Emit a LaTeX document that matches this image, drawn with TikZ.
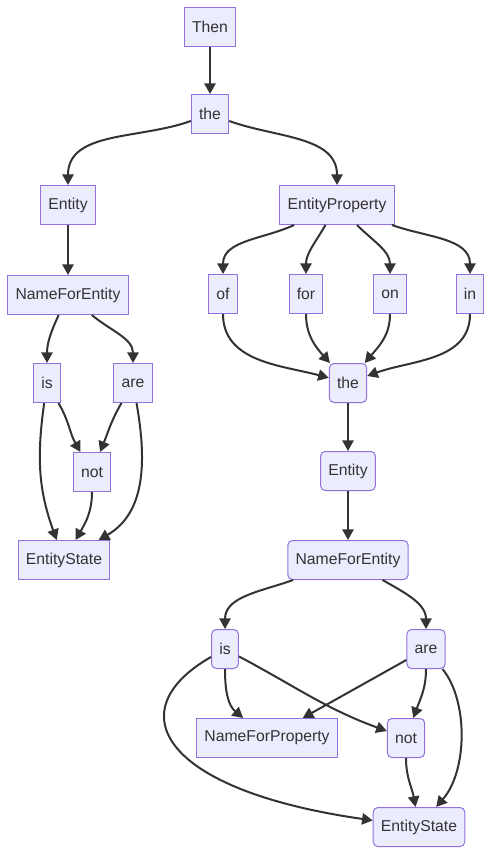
\documentclass[tikz,border=0pt]{standalone}
\usepackage{fontspec}
\setmainfont{Liberation Sans}
\usetikzlibrary{arrows.meta}
\definecolor{mmfill}{HTML}{ECECFF}
\definecolor{mmline}{HTML}{9370DB}
\definecolor{mmedge}{HTML}{333333}
\tikzset{
  >={Triangle[length=8pt,width=8.5pt]},
  % noder
  wn/.style={rectangle,draw=mmline,fill=mmfill,line width=0.75pt,inner xsep=5.8pt,
             inner ysep=0pt,minimum height=29.25pt,text=mmedge,
             font=\fontsize{11.8}{14}\selectfont},
  rn/.style={wn,rounded corners=3.5pt},
  % kanter
  we/.style={->,draw=mmedge,line width=1.5pt},
}
\begin{document}
\begin{tikzpicture}[x=0.75pt,y=-0.75pt]
\useasboundingbox (0,0) rectangle (492,856);
  \node[wn] (then) at (210,27) {Then};
  \node[wn] (the1) at (210,114) {the};
  \node[wn] (ent1) at (68,205) {Entity};
  \node[wn] (eprop) at (337,205) {EntityProperty};
  \node[wn] (nfe1) at (68,295) {NameForEntity};
  \node[wn] (wof) at (223,294) {of};
  \node[wn] (wfor) at (306,294) {for};
  \node[wn] (won) at (390,294) {on};
  \node[wn] (win) at (470,294) {in};
  \node[wn] (is1) at (47,383) {is};
  \node[wn] (are1) at (133,383) {are};
  \node[rn] (the2) at (348,383) {the};
  \node[wn] (not1) at (92,472) {not};
  \node[rn] (ent2) at (348,471) {Entity};
  \node[wn] (es1) at (64,560) {EntityState};
  \node[rn] (nfe2) at (348,560) {NameForEntity};
  \node[rn] (is2) at (225,649) {is};
  \node[rn] (are2) at (426,649) {are};
  \node[wn] (nfp) at (267,738) {NameForProperty};
  \node[rn] (not2) at (406,738) {not};
  \node[rn] (es2) at (419,827) {EntityState};
  \draw[we] (then) -- (the1);
  \draw[we] (the1) to[out=200,in=90] (ent1);
  \draw[we] (the1) to[out=-20,in=90] (eprop);
  \draw[we] (ent1) -- (nfe1);
  \draw[we] (eprop) to[out=205,in=90] (wof);
  \draw[we] (eprop) to[out=240,in=90] (wfor);
  \draw[we] (eprop) to[out=-45,in=90] (won);
  \draw[we] (eprop) to[out=-20,in=90] (win);
  \draw[we] (wof) to[out=-90,in=165] (the2);
  \draw[we] (wfor) to[out=-90,in=132] (the2);
  \draw[we] (won) to[out=-90,in=50] (the2);
  \draw[we] (win) to[out=-90,in=20] (the2);
  \draw[we] (the2) -- (ent2);
  \draw[we] (ent2) -- (nfe2);
  \draw[we] (nfe1) to[out=-115,in=90] (is1);
  \draw[we] (nfe1) to[out=-40,in=90] (are1);
  \draw[we] (is1) to[out=-60,in=120] (not1);
  \draw[we] (is1) to[out=-98,in=110] (es1);
  \draw[we] (are1) to[out=-120,in=68] (not1);
  \draw[we] (are1) to[out=-80,in=30] (es1);
  \draw[we] (not1) to[out=-90,in=60] (es1);
  \draw[we] (nfe2) to[out=200,in=90] (is2);
  \draw[we] (nfe2) to[out=-30,in=90] (are2);
  \draw[we] (is2) to[out=-90,in=140] (nfp);
  \draw[we] (is2) to[out=-28,in=160] (not2);
  \draw[we] (is2) .. controls (118,710) and (160,790) .. (es2);
  \draw[we] (are2) -- (nfp);
  \draw[we] (are2) to[out=-90,in=70] (not2);
  \draw[we] (are2) .. controls (468,700) and (468,770) .. (es2);
  \draw[we] (not2) to[out=-90,in=100] (es2);
\end{tikzpicture}
\end{document}
